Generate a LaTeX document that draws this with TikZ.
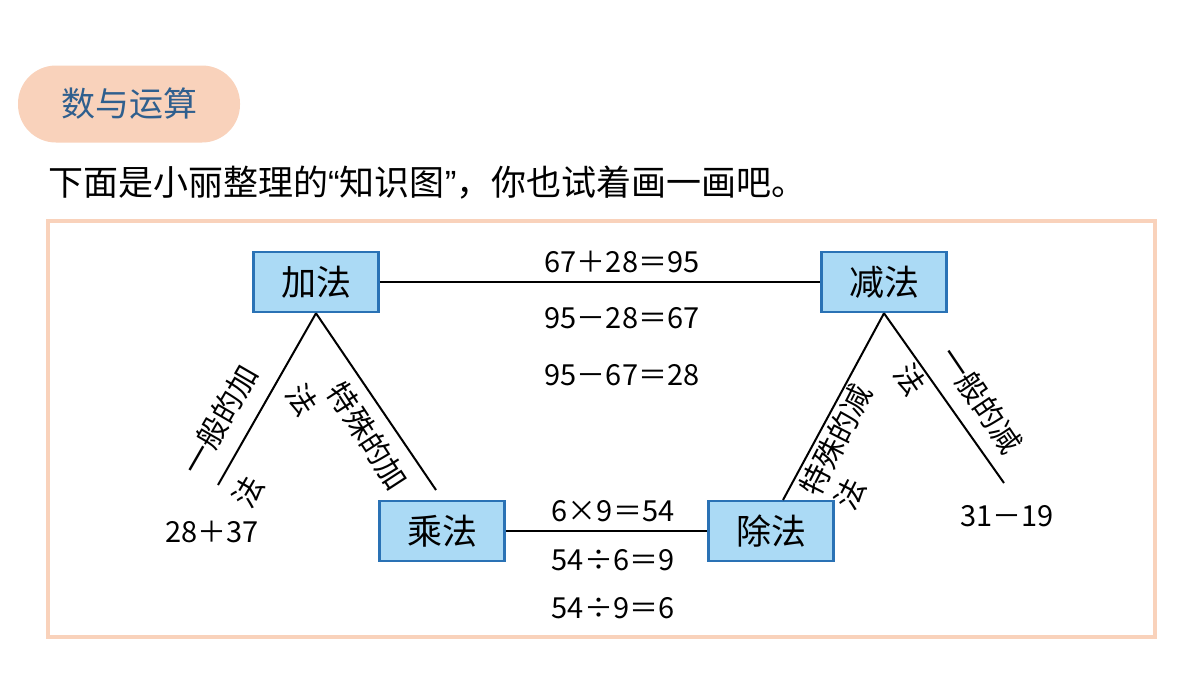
\documentclass[tikz,border=0pt]{standalone}
\usepackage{fontspec}
\setmainfont{Noto Sans CJK SC}
\newfontfamily\latq{Liberation Sans}
\begin{document}
\begin{tikzpicture}[x=1pt,y=-1pt,
  box/.style={draw=boxb,fill=boxf,line width=2.5pt,minimum width=125pt,minimum height=60pt,font=\fontsize{35}{38}\selectfont,inner sep=0pt},
  eq/.style={font=\fontsize{29}{31}\selectfont,inner sep=0pt},
  lab/.style={font=\fontsize{30}{31}\selectfont,inner sep=0pt},
  ln/.style={line width=2pt}]
\definecolor{peach}{HTML}{F9D2BB}
\definecolor{boxf}{HTML}{ABDAF5}
\definecolor{boxb}{HTML}{2A72B5}
\definecolor{ttl}{HTML}{2F5F8E}
\useasboundingbox (0,0) rectangle (1200,675);
\fill[white] (0,0) rectangle (1200,675);
\node[fill=peach,rounded corners=38pt,minimum width=222pt,minimum height=77pt,inner sep=0pt,text=ttl,font=\fontsize{34}{38}\selectfont] (title) at (129,104) {数与运算};
\node[anchor=west,inner sep=0pt,font=\fontsize{35}{38}\selectfont] (head) at (48,183) {下面是小丽整理的{\latq “}知识图{\latq ”}，你也试着画一画吧。};
\draw[peach,line width=4pt] (48,221) rectangle (1155,637);
\node[box] (add) at (316,282) {加法};
\node[box] (sub) at (884,282) {减法};
\node[box] (mul) at (442,531) {乘法};
\node[box] (div) at (771,531) {除法};
\draw[ln] (add) -- (sub);
\draw[ln] (mul) -- (div);
\coordinate (a1) at (218,485);
\coordinate (a2) at (436,490);
\coordinate (s1) at (783,500);
\coordinate (s2) at (1004,483);
\draw[ln] (add.south) -- (a1);
\draw[ln] (add.south) -- (a2);
\draw[ln] (sub.south) -- (s1);
\draw[ln] (sub.south) -- (s2);
\node[eq] (e1) at (622,262) {67＋28＝95};
\node[eq] (e2) at (622,318) {95－28＝67};
\node[eq] (e3) at (622,375) {95－67＝28};
\node[eq] (e4) at (613,511) {6×9＝54};
\node[eq] (e5) at (613,560) {54÷6＝9};
\node[eq] (e6) at (613,608) {54÷9＝6};
\node[eq] (x1) at (212,532) {28＋37};
\node[eq] (x2) at (1007,516) {31－19};
\node[lab,rotate=60] (l1a) at (220,420) {一般的加};
\node[lab,rotate=60] (l1b) at (248,492) {法};
\node[lab,rotate=-57] (l2a) at (368,436) {特殊的加};
\node[lab,rotate=-57] (l2b) at (302,400) {法};
\node[lab,rotate=63] (l3a) at (836,440) {特殊的减};
\node[lab,rotate=63] (l3b) at (850,494) {法};
\node[lab,rotate=-56] (l4a) at (981,400) {一般的减};
\node[lab,rotate=-56] (l4b) at (910,380) {法};
\end{tikzpicture}
\end{document}
